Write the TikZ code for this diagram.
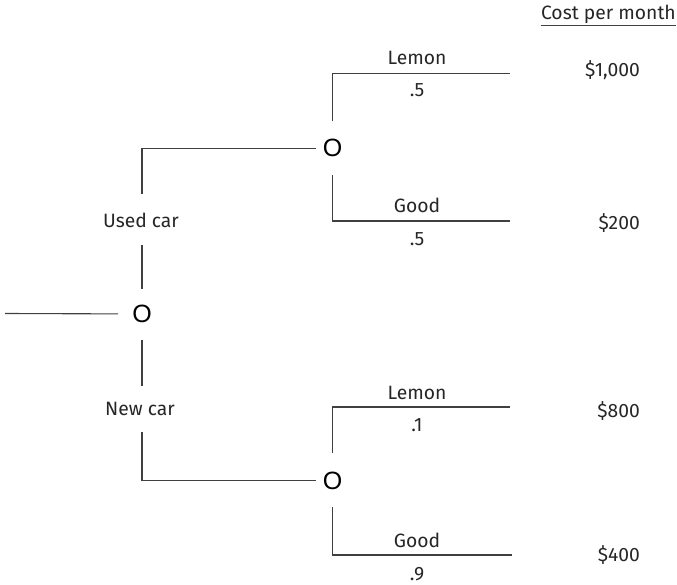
\documentclass[tikz,border=0pt]{standalone}
\usepackage{fontspec}
\setmainfont{Fira Sans}
\newfontfamily\ofont{Liberation Sans}
\begin{document}
\begin{tikzpicture}[x=1pt,y=-1pt,
  lbl/.style={font=\fontsize{19.3}{23}\selectfont, text=black!85, inner sep=0pt, anchor=base},
  val/.style={lbl, anchor=base east},
  chance/.style={font=\ofont\fontsize{25}{29}\selectfont, text=black, inner sep=0pt, anchor=base},
  edge/.style={draw=black!75, line width=1.1pt}]
\useasboundingbox (0,0) rectangle (677,585);
% chance nodes
\node[chance] (root) at (142,322.5) {O};
\node[chance] (top) at (332.5,157) {O};
\node[chance] (bot) at (332.5,489) {O};
% labels
\node[lbl] (used) at (141,228) {Used car};
\node[lbl] (new) at (140,415) {New car};
\node[lbl] (lemon1) at (417,65) {Lemon};
\node[lbl] (p1) at (417,97) {.5};
\node[lbl] (good1) at (417,213) {Good};
\node[lbl] (p2) at (417,246) {.5};
\node[lbl] (lemon2) at (417,399) {Lemon};
\node[lbl] (p3) at (417,431) {.1};
\node[lbl] (good2) at (417,547) {Good};
\node[lbl] (p4) at (417,580) {.9};
% values
\node[val] (hdr) at (676,19.5) {Cost per month};
\node[val] (v1) at (640,77) {\$1,000};
\node[val] (v2) at (640,230) {\$200};
\node[val] (v3) at (640,417) {\$800};
\node[val] (v4) at (640,561) {\$400};
\draw[edge, line width=0.9pt] ([yshift=-5.5pt]hdr.base west) -- ([yshift=-5.5pt]hdr.base east);
% free ends
\coordinate (rin) at (5,313.5);
\coordinate (u1) at (142,194);
\coordinate (u2) at (142,245);
\coordinate (n1) at (142,386);
\coordinate (n2) at (142,432);
\coordinate (e1) at (510,73.5);
\coordinate (e2) at (510,221);
\coordinate (e3) at (510,407);
\coordinate (e4) at (512,555);
% connectors
\draw[edge] (rin) -- ([xshift=-14pt]root.west);
\draw[edge] (u1) |- ([xshift=-7pt]top.west);
\draw[edge] (u2) -- ([yshift=16pt]root.north);
\draw[edge] ([yshift=-17pt]root.south) -- (n1);
\draw[edge] (n2) |- ([xshift=-7pt]bot.west);
\draw[edge] ([yshift=18pt]top.north) |- (e1);
\draw[edge] ([yshift=-18pt]top.south) |- (e2);
\draw[edge] ([yshift=18pt]bot.north) |- (e3);
\draw[edge] ([yshift=-18pt]bot.south) |- (e4);
\end{tikzpicture}
\end{document}
